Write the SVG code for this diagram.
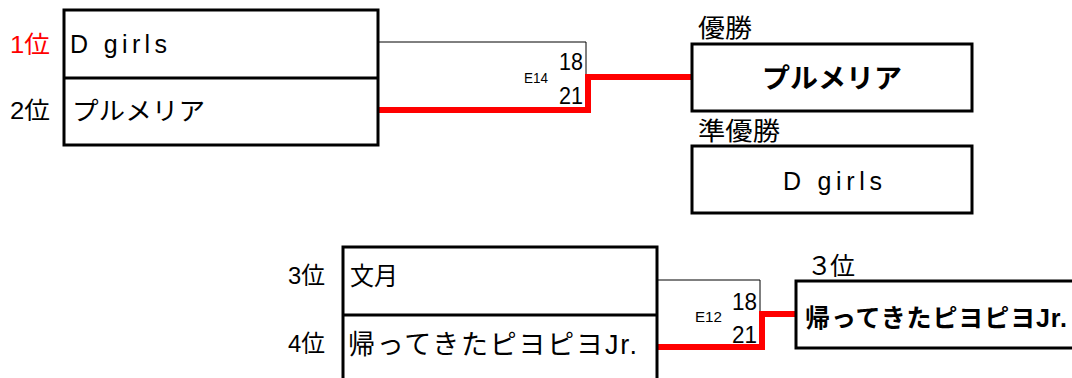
<svg xmlns="http://www.w3.org/2000/svg" width="1072" height="378" viewBox="0 0 1072 378">
<style>
text{font-family:"Liberation Sans","Noto Sans CJK JP",sans-serif;fill:#000}
.box{fill:#fff;stroke:#000;stroke-width:3}
.thin{fill:none;stroke:#000;stroke-width:1}
.win{fill:none;stroke:#f00;stroke-width:6}
.rank{font-size:24px}
.name{font-size:25px}
.score{font-size:23px}
.game{font-size:14px}
.bold{font-weight:bold;font-size:27px}
</style>
<rect width="1072" height="378" fill="#fff"/>
<g id="connectors">
<polyline class="thin" points="378,42 586,42 586,76"/>
<polyline class="win" points="378,110 588,110 588,77 692,77"/>
<polyline class="thin" points="657,280 760,280 760,313"/>
<polyline class="win" points="657,347 762,347 762,314 796,314"/>
</g>
<g id="match-top">
<rect class="box" x="64" y="10" width="314" height="135"/>
<line x1="64" y1="78" x2="378" y2="78" stroke="#000" stroke-width="3"/>
<text class="rank" x="10" y="53" style="fill:#f00" textLength="40" lengthAdjust="spacingAndGlyphs">1位</text>
<text class="name" x="70" y="53" textLength="97" lengthAdjust="spacing">D girls</text>
<text class="rank" x="10" y="119" textLength="40" lengthAdjust="spacingAndGlyphs">2位</text>
<text class="name" x="72" y="120" textLength="133" lengthAdjust="spacingAndGlyphs">プルメリア</text>
<text class="score" x="559" y="70" textLength="24" lengthAdjust="spacingAndGlyphs">18</text>
<text class="score" x="559" y="104" textLength="24" lengthAdjust="spacingAndGlyphs">21</text>
<text class="game" x="524" y="83" textLength="24" lengthAdjust="spacingAndGlyphs">E14</text>
</g>
<g id="champion">
<text class="name" x="698" y="37" textLength="54" lengthAdjust="spacingAndGlyphs">優勝</text>
<rect class="box" x="692" y="44" width="280" height="67"/>
<text class="bold" x="762" y="88" textLength="140" lengthAdjust="spacingAndGlyphs">プルメリア</text>
</g>
<g id="runner-up">
<text class="name" x="698" y="140" textLength="82" lengthAdjust="spacingAndGlyphs">準優勝</text>
<rect class="box" x="692" y="146" width="280" height="67"/>
<text class="name" x="783" y="190" textLength="99" lengthAdjust="spacing">D girls</text>
</g>
<g id="match-bottom">
<rect class="box" x="343" y="247" width="314" height="140"/>
<line x1="343" y1="315" x2="657" y2="315" stroke="#000" stroke-width="3"/>
<text class="rank" x="288" y="284" textLength="37" lengthAdjust="spacingAndGlyphs">3位</text>
<text class="name" x="350" y="285" textLength="48" lengthAdjust="spacingAndGlyphs">文月</text>
<text class="rank" x="288" y="352" textLength="37" lengthAdjust="spacingAndGlyphs">4位</text>
<text class="name" x="348" y="354" style="font-size:27px" textLength="289" lengthAdjust="spacing">帰ってきたピヨピヨJr.</text>
<text class="score" x="732" y="310" textLength="25" lengthAdjust="spacingAndGlyphs">18</text>
<text class="score" x="732" y="343" textLength="25" lengthAdjust="spacingAndGlyphs">21</text>
<text class="game" x="695" y="322" textLength="27" lengthAdjust="spacingAndGlyphs">E12</text>
</g>
<g id="third-place">
<text class="name" x="807" y="275" textLength="48" lengthAdjust="spacing">３位</text>
<rect class="box" x="796" y="281" width="280" height="67"/>
<text class="bold" x="805" y="327" style="font-size:25px" textLength="262" lengthAdjust="spacing">帰ってきたピヨピヨJr.</text>
</g>
</svg>
